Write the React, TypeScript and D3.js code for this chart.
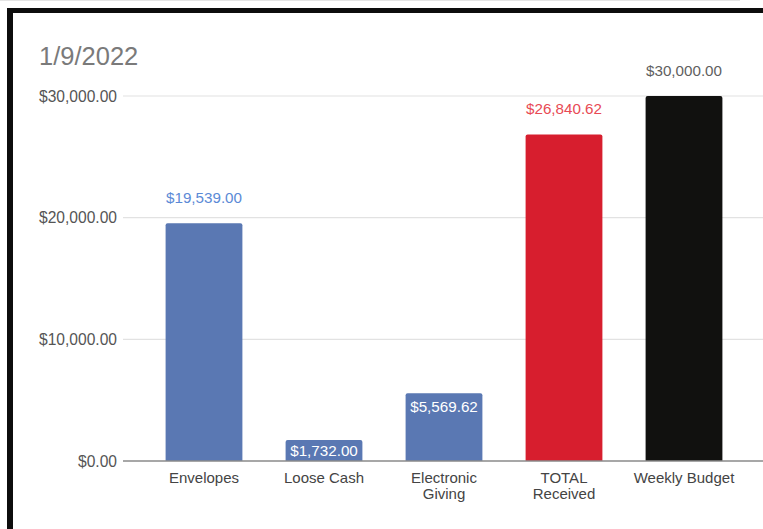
import React from 'react';
import * as d3 from 'd3';

const categories = ['Envelopes', 'Loose Cash', 'Electronic Giving', 'TOTAL Received', 'Weekly Budget'];
const categoryLines = [['Envelopes'], ['Loose Cash'], ['Electronic', 'Giving'], ['TOTAL', 'Received'], ['Weekly Budget']];
const values = [19539.0, 1732.0, 5569.62, 26840.62, 30000.0];
const barColors = ['#5a78b3', '#5a78b3', '#5a78b3', '#d71e2e', '#11110f'];
const labelColors = ['#5b8ad6', '#ffffff', '#ffffff', '#e84a55', '#5f5f5f'];
const labelInside = [false, true, true, false, false];
const yTicks = [0, 10000, 20000, 30000];
const title = '1/9/2022';

const W = 763;
const H = 529;
const FONT = 'Arial, "Liberation Sans", sans-serif';

export default function App() {
  const x = d3.scaleBand<string>()
    .domain(categories)
    .range([123, 765])
    .paddingInner(0.36)
    .paddingOuter(0.355);

  const y = d3.scaleLinear().domain([0, 30000]).range([461, 96]);
  const money = (v: number) => '$' + d3.format(',.2f')(v);

  return (
    <svg width={W} height={H} style={{ position: 'absolute', left: 0, top: 0, background: '#fff' }} fontFamily={FONT}>
      <rect x={0} y={0} width={W} height={H} fill="#fff" />
      {/* frame of the screenshot */}
      <line x1={0} x2={740} y1={0.5} y2={0.5} stroke="#e4e4e4" />
      <rect x={7} y={8} width={W} height={5} fill="#0d0d0d" />
      <rect x={7} y={8} width={6} height={H} fill="#0d0d0d" />

      <text x={39} y={65} fontSize={25.5} fill="#7a7a7a">{title}</text>

      {yTicks.map(t => (
        <g key={t}>
          {t !== 0 && <line x1={123} x2={W} y1={y(t)} y2={y(t)} stroke="#e2e2e2" strokeWidth={1.2} />}
          <text x={117} y={y(t) + 5.5} fontSize={15.6} fill="#555" textAnchor="end">{money(t)}</text>
        </g>
      ))}

      {categories.map((c, i) => {
        const bx = x(c)!;
        const top = y(values[i]);
        const cx = bx + x.bandwidth() / 2;
        const ly = labelInside[i] ? Math.min(top + 19, y(0) - 5) : top - 20;
        return (
          <g key={c}>
            <path
              d={`M${bx},${y(0)}V${top + 2}Q${bx},${top} ${bx + 2},${top}H${bx + x.bandwidth() - 2}Q${bx + x.bandwidth()},${top} ${bx + x.bandwidth()},${top + 2}V${y(0)}Z`}
              fill={barColors[i]}
            />
            <text x={cx} y={ly} fontSize={15.2} fill={labelColors[i]} textAnchor="middle">{money(values[i])}</text>
            {categoryLines[i].map((l, k) => (
              <text key={k} x={cx} y={483 + k * 16} fontSize={15} fill="#444" textAnchor="middle">{l}</text>
            ))}
          </g>
        );
      })}

      <line x1={123} x2={W} y1={y(0)} y2={y(0)} stroke="#8a8a8a" strokeWidth={1.6} />
    </svg>
  );
}
